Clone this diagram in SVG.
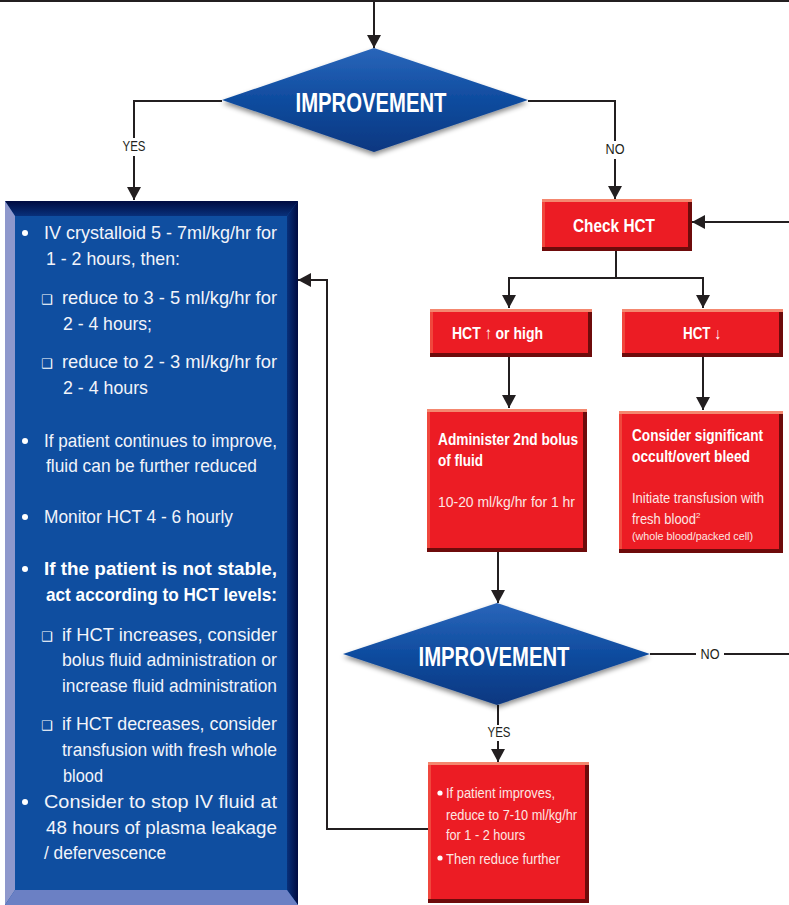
<svg xmlns="http://www.w3.org/2000/svg" width="789" height="905" viewBox="0 0 789 905">
<defs>
<marker id="ah" markerUnits="userSpaceOnUse" markerWidth="14" markerHeight="14" refX="13" refY="7" orient="auto"><path d="M0,0 L13,7 L0,14 Z" fill="#231f20"/></marker>
<linearGradient id="dg" x1="0" y1="0" x2="0" y2="1"><stop offset="0" stop-color="#2a66ba"/><stop offset="0.5" stop-color="#0f4c9f"/><stop offset="1" stop-color="#0a3780"/></linearGradient>
<linearGradient id="tg" x1="0" y1="0" x2="0" y2="1"><stop offset="0" stop-color="#000b40"/><stop offset="1" stop-color="#08307a"/></linearGradient>
<linearGradient id="rg" x1="0" y1="0" x2="1" y2="0"><stop offset="0" stop-color="#08307a"/><stop offset="1" stop-color="#000b40"/></linearGradient>
<filter id="sh" x="-10%" y="-10%" width="120%" height="135%"><feDropShadow dx="0" dy="3" stdDeviation="2.5" flood-color="#000" flood-opacity="0.45"/></filter>
</defs>
<style>
.ln{fill:none;stroke:#231f20;stroke-width:2}
.ar{marker-end:url(#ah)}
.lbl{font-family:"Liberation Sans",Arial,sans-serif;font-size:15px;fill:#231f20}
.dia{font-family:"Liberation Sans",Arial,sans-serif;font-weight:bold;font-size:27px;fill:#fff}
.bt{font-family:"Liberation Sans",Arial,sans-serif;font-size:19px;fill:#f2f4fa}
.bb{font-weight:bold;fill:#fff}
.cb{font-family:"DejaVu Sans",sans-serif;font-size:13px;fill:#fff}
.rb{font-family:"Liberation Sans",Arial,sans-serif;font-size:16px;font-weight:bold;fill:#fff}
.rr{font-family:"Liberation Sans",Arial,sans-serif;font-size:15px;fill:#fde6e3}
.face{fill:#ec1c24}
.hi{fill:#f4876f}
.lt{fill:#f0473d}
.dk{fill:#6e0b0b}
.wd{fill:#fff}
</style>

<rect x="0" y="0" width="789" height="2" fill="#231f20"/>

<g id="connectors">
<path class="ln ar" d="M374,1 V48"/>
<path class="ln" d="M222,101 H134 V138"/>
<path class="ln ar" d="M134,156 V200"/>
<text class="lbl" x="134" y="151" text-anchor="middle" textLength="23" lengthAdjust="spacingAndGlyphs">YES</text>
<path class="ln" d="M528,101 H615 V141"/>
<path class="ln ar" d="M615,159 V199"/>
<text class="lbl" x="615" y="154" text-anchor="middle" textLength="19" lengthAdjust="spacingAndGlyphs">NO</text>
<path class="ln ar" d="M789,222 H692"/>
<path class="ln" d="M616,251 V278 M509,278 H703"/>
<path class="ln ar" d="M509,277 V308"/>
<path class="ln ar" d="M703,277 V308"/>
<path class="ln ar" d="M509,357 V408"/>
<path class="ln ar" d="M703,357 V410"/>
<path class="ln ar" d="M498,552 V603"/>
<path class="ln" d="M650,654 H696 M724,654 H789"/>
<text class="lbl" x="710" y="659" text-anchor="middle" textLength="19" lengthAdjust="spacingAndGlyphs">NO</text>
<path class="ln" d="M498,705 V725"/>
<path class="ln ar" d="M498,741 V762"/>
<text class="lbl" x="499" y="737" text-anchor="middle" textLength="23" lengthAdjust="spacingAndGlyphs">YES</text>
<path class="ln ar" d="M428,829 H327 V280 H298"/>
</g>

<g id="decision1">
<polygon points="374,48 528,100 374,152 222,100" fill="url(#dg)" filter="url(#sh)"/>
<text class="dia" x="371" y="112" text-anchor="middle" textLength="151" lengthAdjust="spacingAndGlyphs">IMPROVEMENT</text>
</g>

<g id="stable-box">
<rect x="5" y="201" width="293" height="704" fill="#0f4ea0"/>
<polygon points="5,201 298,201 287,216 15,216" fill="url(#tg)"/>
<polygon points="298,201 298,905 287,890 287,216" fill="url(#rg)"/>
<polygon points="5,201 15,216 15,890 5,905" fill="#8e98cc"/>
<polygon points="5,905 298,905 287,890 15,890" fill="#6b80c4"/>
<circle class="wd" cx="25" cy="233" r="3"/>
<text class="bt" x="44" y="239" textLength="233" lengthAdjust="spacingAndGlyphs">IV crystalloid 5 - 7ml/kg/hr for</text>
<text class="bt" x="46" y="265" textLength="134" lengthAdjust="spacingAndGlyphs">1 - 2 hours, then:</text>
<text class="cb" x="41" y="304">❑</text>
<text class="bt" x="62" y="304" textLength="215" lengthAdjust="spacingAndGlyphs">reduce to 3 - 5 ml/kg/hr for</text>
<text class="bt" x="63" y="330" textLength="89" lengthAdjust="spacingAndGlyphs">2 - 4 hours;</text>
<text class="cb" x="41" y="368">❑</text>
<text class="bt" x="62" y="368" textLength="215" lengthAdjust="spacingAndGlyphs">reduce to 2 - 3 ml/kg/hr for</text>
<text class="bt" x="63" y="394" textLength="85" lengthAdjust="spacingAndGlyphs">2 - 4 hours</text>
<circle class="wd" cx="25" cy="441" r="3"/>
<text class="bt" x="44" y="447" textLength="233" lengthAdjust="spacingAndGlyphs">If patient continues to improve,</text>
<text class="bt" x="46" y="472" textLength="211" lengthAdjust="spacingAndGlyphs">fluid can be further reduced</text>
<circle class="wd" cx="25" cy="517" r="3"/>
<text class="bt" x="44" y="523" textLength="189" lengthAdjust="spacingAndGlyphs">Monitor HCT 4 - 6 hourly</text>
<circle class="wd" cx="25" cy="569" r="3"/>
<text class="bt bb" x="44" y="575" textLength="233" lengthAdjust="spacingAndGlyphs">If the patient is not stable,</text>
<text class="bt bb" x="46" y="601" textLength="231" lengthAdjust="spacingAndGlyphs">act according to HCT levels:</text>
<text class="cb" x="41" y="641">❑</text>
<text class="bt" x="62" y="641" textLength="215" lengthAdjust="spacingAndGlyphs">if HCT increases, consider</text>
<text class="bt" x="62" y="666" textLength="215" lengthAdjust="spacingAndGlyphs">bolus fluid administration or</text>
<text class="bt" x="62" y="692" textLength="215" lengthAdjust="spacingAndGlyphs">increase fluid administration</text>
<text class="cb" x="41" y="730">❑</text>
<text class="bt" x="62" y="730" textLength="215" lengthAdjust="spacingAndGlyphs">if HCT decreases, consider</text>
<text class="bt" x="62" y="756" textLength="215" lengthAdjust="spacingAndGlyphs">transfusion with fresh whole</text>
<text class="bt" x="63" y="782" textLength="40" lengthAdjust="spacingAndGlyphs">blood</text>
<circle class="wd" cx="25" cy="802" r="3"/>
<text class="bt" x="44" y="808" textLength="233" lengthAdjust="spacingAndGlyphs">Consider to stop IV fluid at</text>
<text class="bt" x="46" y="834" textLength="231" lengthAdjust="spacingAndGlyphs">48 hours of plasma leakage</text>
<text class="bt" x="44" y="859" textLength="122" lengthAdjust="spacingAndGlyphs">/ defervescence</text>
</g>

<g id="check-hct">
<rect class="face" x="542" y="199" width="150" height="52"/>
<rect class="lt" x="542" y="199" width="3" height="52"/>
<rect class="dk" x="688" y="199" width="4" height="52"/>
<rect class="dk" x="542" y="247" width="150" height="4"/>
<rect class="hi" x="542" y="199" width="150" height="3"/>
<text class="rb" x="614" y="232" text-anchor="middle" style="font-size:19px" textLength="82" lengthAdjust="spacingAndGlyphs">Check HCT</text>
</g>

<g id="hct-up">
<rect class="face" x="430" y="309" width="162" height="48"/>
<rect class="lt" x="430" y="309" width="3" height="48"/>
<rect class="dk" x="588" y="309" width="4" height="48"/>
<rect class="dk" x="430" y="353" width="162" height="4"/>
<rect class="hi" x="430" y="309" width="162" height="3"/>
<text class="rb" x="452" y="339" style="font-size:17px" textLength="91" lengthAdjust="spacingAndGlyphs">HCT ↑ or high</text>
</g>

<g id="hct-down">
<rect class="face" x="622" y="309" width="161" height="48"/>
<rect class="lt" x="622" y="309" width="3" height="48"/>
<rect class="dk" x="779" y="309" width="4" height="48"/>
<rect class="dk" x="622" y="353" width="161" height="4"/>
<rect class="hi" x="622" y="309" width="161" height="3"/>
<text class="rb" x="683" y="339" textLength="38" lengthAdjust="spacingAndGlyphs">HCT ↓</text>
</g>

<g id="second-bolus">
<rect class="face" x="427" y="409" width="160" height="143"/>
<rect class="lt" x="427" y="409" width="3" height="143"/>
<rect class="dk" x="583" y="409" width="4" height="143"/>
<rect class="dk" x="427" y="548" width="160" height="4"/>
<rect class="hi" x="427" y="409" width="160" height="3"/>
<text class="rb" x="438" y="445" textLength="140" lengthAdjust="spacingAndGlyphs">Administer 2nd bolus</text>
<text class="rb" x="438" y="466" textLength="45" lengthAdjust="spacingAndGlyphs">of fluid</text>
<text class="rr" x="438" y="507" textLength="137" lengthAdjust="spacingAndGlyphs">10-20 ml/kg/hr for 1 hr</text>
</g>

<g id="bleed">
<rect class="face" x="619" y="411" width="164" height="142"/>
<rect class="lt" x="619" y="411" width="3" height="142"/>
<rect class="dk" x="779" y="411" width="4" height="142"/>
<rect class="dk" x="619" y="549" width="164" height="4"/>
<rect class="hi" x="619" y="411" width="164" height="3"/>
<text class="rb" x="632" y="441" textLength="131" lengthAdjust="spacingAndGlyphs">Consider significant</text>
<text class="rb" x="632" y="462" textLength="118" lengthAdjust="spacingAndGlyphs">occult/overt bleed</text>
<text class="rr" x="632" y="503" textLength="132" lengthAdjust="spacingAndGlyphs">Initiate transfusion with</text>
<text class="rr" x="632" y="524"><tspan textLength="64" lengthAdjust="spacingAndGlyphs">fresh blood</tspan><tspan style="font-size:8px" dy="-6">2</tspan></text>
<text class="rr" x="632" y="540" style="font-size:10.5px" textLength="121" lengthAdjust="spacingAndGlyphs">(whole blood/packed cell)</text>
</g>

<g id="decision2">
<polygon points="497,603 650,654 497,705 343,654" fill="url(#dg)" filter="url(#sh)"/>
<text class="dia" x="494" y="666" text-anchor="middle" textLength="151" lengthAdjust="spacingAndGlyphs">IMPROVEMENT</text>
</g>

<g id="reduce">
<rect class="face" x="428" y="762" width="161" height="141"/>
<rect class="lt" x="428" y="762" width="3" height="141"/>
<rect class="dk" x="585" y="762" width="4" height="141"/>
<rect class="dk" x="428" y="899" width="161" height="4"/>
<rect class="hi" x="428" y="762" width="161" height="3"/>
<circle class="wd" cx="440" cy="793" r="2.6"/>
<text class="rr" x="446" y="798" textLength="109" lengthAdjust="spacingAndGlyphs">If patient improves,</text>
<text class="rr" x="446" y="820" textLength="131" lengthAdjust="spacingAndGlyphs">reduce to 7-10 ml/kg/hr</text>
<text class="rr" x="446" y="840" textLength="79" lengthAdjust="spacingAndGlyphs">for 1 - 2 hours</text>
<circle class="wd" cx="440" cy="858" r="2.6"/>
<text class="rr" x="446" y="864" textLength="114" lengthAdjust="spacingAndGlyphs">Then reduce further</text>
</g>
</svg>
